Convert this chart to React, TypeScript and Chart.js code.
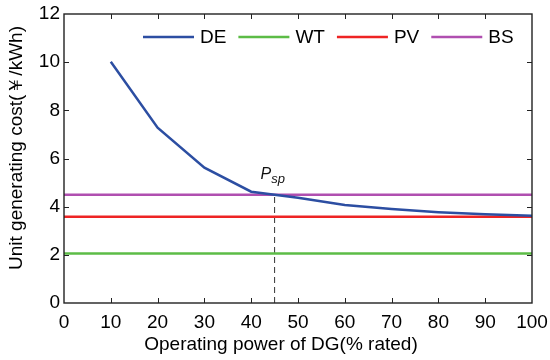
import React, { useEffect, useRef } from "react";
import { Chart, registerables } from "chart.js";

Chart.register(...registerables);

const xValues = [10, 20, 30, 40, 50, 60, 70, 80, 90, 100];
const deValues = [10.02, 7.28, 5.62, 4.62, 4.37, 4.07, 3.9, 3.77, 3.68, 3.62];
const flatX = [0, 100];
const wtValue = 2.06;
const pvValue = 3.58;
const bsValue = 4.5;
const pspX = 45;
const seriesNames = ["DE", "WT", "PV", "BS"];
const seriesColors = ["#2c4ea2", "#5cbc46", "#ee2424", "#b04fb0"];
const xTitle = "Operating power of DG(% rated)";
const yTitle = "Unit generating cost(￥/kWh)";

const FONT = '"Liberation Sans", Arial, Helvetica, sans-serif';

const framePlugin = {
  id: "frameAndExtras",
  afterDatasetsDraw(chart: any) {
    const { ctx, chartArea } = chart;
    const { left, right, top, bottom } = chartArea;
    const xs = chart.scales.x;
    const ys = chart.scales.y;
    ctx.save();
    // frame
    ctx.strokeStyle = "#222";
    ctx.lineWidth = 1.4;
    ctx.strokeRect(left, top, right - left, bottom - top);
    // inward ticks
    ctx.lineWidth = 1;
    const tl = 5;
    for (let v = 10; v < 100; v += 10) {
      const px = Math.round(xs.getPixelForValue(v)) + 0.5;
      ctx.beginPath();
      ctx.moveTo(px, bottom);
      ctx.lineTo(px, bottom - tl);
      ctx.moveTo(px, top);
      ctx.lineTo(px, top + tl);
      ctx.stroke();
    }
    for (let v = 2; v < 12; v += 2) {
      const py = Math.round(ys.getPixelForValue(v)) + 0.5;
      ctx.beginPath();
      ctx.moveTo(left, py);
      ctx.lineTo(left + tl, py);
      ctx.moveTo(right, py);
      ctx.lineTo(right - tl, py);
      ctx.stroke();
    }
    // Psp label
    const px = xs.getPixelForValue(pspX);
    const py = ys.getPixelForValue(bsValue);
    ctx.fillStyle = "#111";
    ctx.textBaseline = "alphabetic";
    ctx.textAlign = "left";
    ctx.font = `italic 16px ${FONT}`;
    const pX = px - 14;
    const baseY = py - 16;
    ctx.fillText("P", pX, baseY);
    const pW = ctx.measureText("P").width;
    ctx.font = `italic 13px ${FONT}`;
    ctx.fillText("sp", pX + pW, baseY + 4);

    // legend
    ctx.font = `19px ${FONT}`;
    ctx.textBaseline = "middle";
    let lx = 143;
    const ly = 37;
    seriesNames.forEach((name, i) => {
      ctx.strokeStyle = seriesColors[i];
      ctx.lineWidth = 2.5;
      ctx.beginPath();
      ctx.moveTo(lx, ly);
      ctx.lineTo(lx + 51, ly);
      ctx.stroke();
      ctx.fillStyle = "#000";
      ctx.fillText(name, lx + 57, ly + 1);
      lx += 57 + ctx.measureText(name).width + 12;
    });

    // axis titles
    ctx.fillStyle = "#000";
    ctx.font = `19px ${FONT}`;
    ctx.textAlign = "center";
    ctx.textBaseline = "middle";
    ctx.fillText(xTitle, 281, 345);
    ctx.save();
    ctx.translate(17, 148);
    ctx.rotate(-Math.PI / 2);
    ctx.fillText(yTitle, 0, 0);
    ctx.restore();
    ctx.restore();
  },
};

export default function App() {
  const ref = useRef<HTMLCanvasElement | null>(null);
  useEffect(() => {
    document.body.style.margin = "0";
    const canvas = ref.current!;
    const flat = (v: number) => flatX.map((x) => ({ x, y: v }));
    const chart = new Chart(canvas, {
      type: "line",
      data: {
        datasets: [
          {
            label: "DE",
            data: xValues.map((x, i) => ({ x, y: deValues[i] })),
            borderColor: seriesColors[0],
            borderWidth: 2.5,
            pointRadius: 0,
            tension: 0,
          },
          {
            label: "WT",
            data: flat(wtValue),
            borderColor: seriesColors[1],
            borderWidth: 2.5,
            pointRadius: 0,
          },
          {
            label: "PV",
            data: flat(pvValue),
            borderColor: seriesColors[2],
            borderWidth: 2.5,
            pointRadius: 0,
          },
          {
            label: "BS",
            data: flat(bsValue),
            borderColor: seriesColors[3],
            borderWidth: 2.5,
            pointRadius: 0,
          },
          {
            label: "Psp",
            data: [
              { x: pspX, y: 0 },
              { x: pspX, y: bsValue },
            ],
            borderColor: "#333",
            borderWidth: 1,
            borderDash: [6, 4],
            pointRadius: 0,
          },
        ],
      },
      options: {
        responsive: false,
        animation: false,
        devicePixelRatio: 1,
        layout: { padding: { top: 14, right: 18, left: 0, bottom: 0 } },
        plugins: {
          legend: { display: false },
          tooltip: { enabled: false },
        },
        scales: {
          x: {
            type: "linear",
            min: 0,
            max: 100,
            grid: { display: false, drawTicks: false },
            border: { display: false },
            ticks: {
              stepSize: 10,
              color: "#000",
              padding: 8,
              maxRotation: 0,
              font: { family: FONT, size: 19 },
            },
            afterFit: (s: any) => {
              s.height = 57;
              s.paddingLeft = 0;
              s.paddingRight = 0;
            },
          },
          y: {
            type: "linear",
            min: 0,
            max: 12,
            grid: { display: false, drawTicks: false },
            border: { display: false },
            ticks: {
              stepSize: 2,
              color: "#000",
              padding: 4,
              font: { family: FONT, size: 19 },
            },
            afterFit: (s: any) => {
              s.width = 64;
              s.paddingTop = 0;
              s.paddingBottom = 0;
            },
          },
        },
      },
      plugins: [framePlugin],
    });
    return () => chart.destroy();
  }, []);
  return <canvas ref={ref} width={550} height={360} style={{ display: "block" }} />;
}
